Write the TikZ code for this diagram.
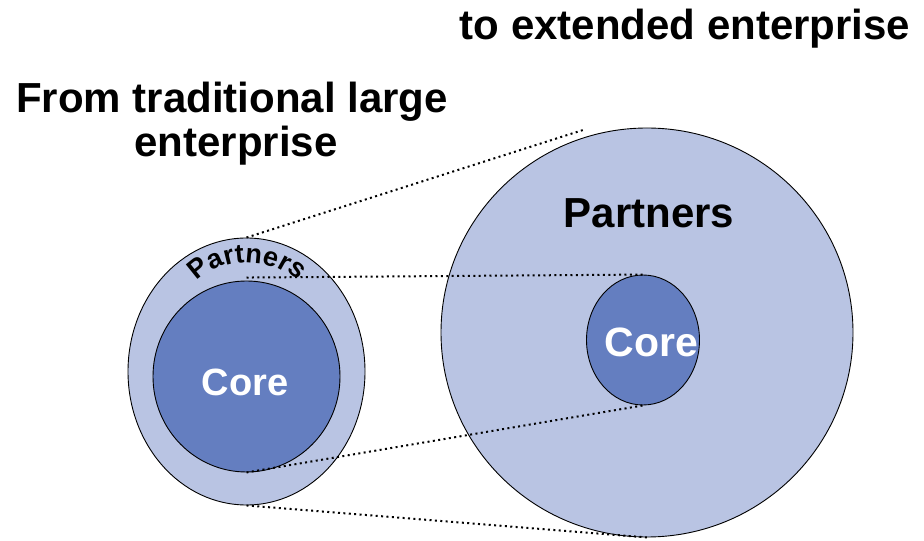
\documentclass[tikz,border=0pt]{standalone}
\usepackage{fontspec}
\setmainfont{Liberation Sans}
\usetikzlibrary{shapes.geometric,calc}
\definecolor{ringblue}{HTML}{B9C4E3}
\definecolor{coreblue}{HTML}{647EC0}
\tikzset{
  disc/.style={ellipse, draw=black, line width=0.9pt, inner sep=0pt},
  ring/.style={disc, fill=ringblue},
  corefill/.style={disc, fill=coreblue},
  dotline/.style={line width=2pt, dash pattern=on 2pt off 3.4pt},
  title/.style={font=\fontsize{42}{47}\selectfont\bfseries, inner sep=0pt, align=center},
  coretext/.style={font=\fontsize{#1}{#1}\selectfont\bfseries, text=white, inner sep=0pt, anchor=base},
  arcletter/.style={font=\fontsize{27}{27}\selectfont\bfseries, inner sep=0pt, anchor=base},
}
\begin{document}
\begin{tikzpicture}[x=1pt,y=1pt]
\useasboundingbox (0,0) rectangle (924,541);
% small (traditional) enterprise
\node[ring, minimum width=237pt, minimum height=267pt] (smallOuter) at (246.5,169.5) {};
\node[corefill, minimum width=187pt, minimum height=191pt] (smallCore) at (246.5,164.5) {};
% extended enterprise
\node[ring, minimum width=412pt, minimum height=409pt] (big) at (647,208.5) {};
\node[corefill, minimum width=113pt, minimum height=130pt] (bigCore) at (643,201) {};
\coordinate (bigEdge) at (583,411);
% dotted lines
\draw[dotline] (smallOuter.north) -- (bigEdge);
\draw[dotline] ([yshift=3pt]smallCore.north) -- (bigCore.north);
\draw[dotline] (smallCore.south) -- (bigCore.south);
\draw[dotline] (smallOuter.south) -- (big.south);
% texts
\node[title, anchor=base] (toExt) at (685,501) {to extended enterprise};
\node[title, anchor=base] (fromTrad) at (232,428) {From traditional large};
\node[title, anchor=base] (fromTrad2) at (236,384) {enterprise};
\node[font=\fontsize{42}{42}\selectfont\bfseries, inner sep=0pt, anchor=base] (bigPartners) at (649,313) {Partners};
\node[coretext=38] (smallCoreText) at (245,145) {Core};
\node[coretext=41] (bigCoreText) at (651.5,184) {Core};
% curved "Partners" on the small ring
\coordinate (arcCentre) at (247,190);
\foreach \ch/\ang [count=\i] in {P/119.8, a/109, r/100.7, t/94.4, n/86.1, e/75.8, r/67.5, s/59.2}
  \node[arcletter, rotate={(\ang-90)*1.3}] (arcch\i) at ($(arcCentre)+(\ang:88)$) {\ch};
\end{tikzpicture}
\end{document}
